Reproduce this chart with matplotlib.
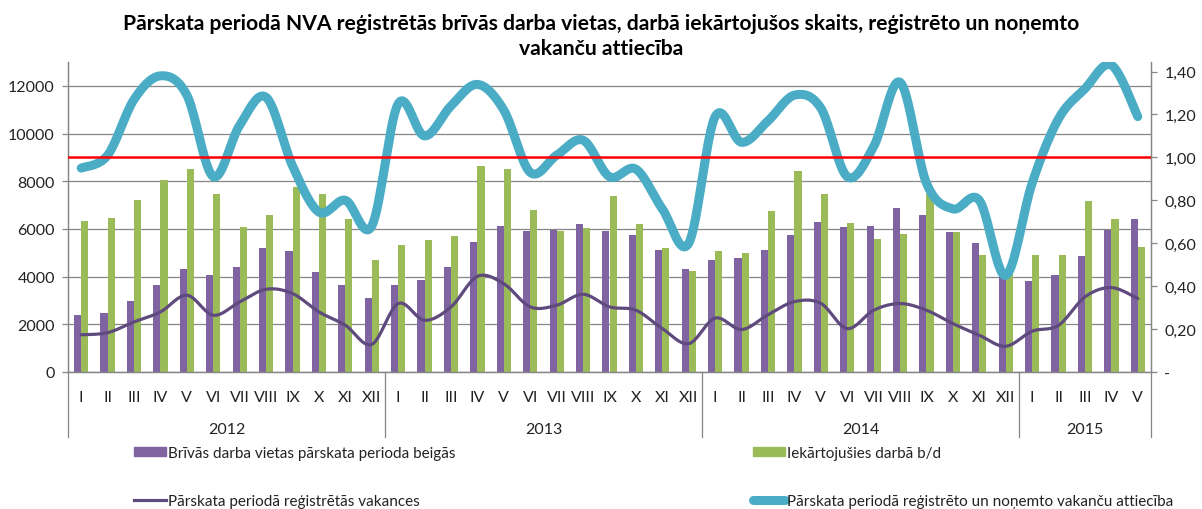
import numpy as np
import matplotlib
matplotlib.use('Agg')
import matplotlib.pyplot as plt
import matplotlib.transforms as mtransforms
from matplotlib.patches import Patch
from matplotlib.lines import Line2D

plt.rcParams['font.family'] = ['Lato', 'DejaVu Sans']

# dati
years = ['2012', '2013', '2014', '2015']
months = ['I', 'II', 'III', 'IV', 'V', 'VI', 'VII', 'VIII', 'IX', 'X', 'XI', 'XII'] * 3 + ['I', 'II', 'III', 'IV', 'V']
year_len = [12, 12, 12, 5]

brivas = [2400, 2470, 2970, 3640, 4340, 4080, 4410, 5200, 5060, 4180, 3640, 3110,
          3660, 3860, 4390, 5440, 6140, 5930, 5970, 6210, 5930, 5740, 5100, 4330,
          4700, 4800, 5100, 5760, 6280, 6070, 6130, 6880, 6570, 5875, 5430, 4200,
          3820, 4080, 4870, 5950, 6410]

iekartojusies = [6330, 6470, 7210, 8050, 8530, 7450, 6090, 6570, 7745, 7480, 6430, 4690,
                 5330, 5540, 5710, 8630, 8530, 6810, 5900, 6040, 7385, 6210, 5200, 4250,
                 5080, 5005, 6770, 8420, 7480, 6240, 5590, 5800, 7470, 5875, 4920, 4400,
                 4920, 4920, 7170, 6410, 5260]

vakances = [1560, 1650, 2100, 2520, 3220, 2380, 2940, 3470, 3290, 2520, 1960, 1160,
            2870, 2170, 2730, 4010, 3700, 2730, 2800, 3260, 2730, 2590, 1820, 1190,
            2260, 1780, 2400, 2950, 2880, 1820, 2590, 2870, 2590, 2030, 1540, 1080,
            1710, 1960, 3150, 3540, 3080]

attieciba = [0.95, 1.01, 1.27, 1.38, 1.29, 0.91, 1.15, 1.28, 0.96, 0.745, 0.80, 0.68,
             1.25, 1.10, 1.24, 1.34, 1.22, 0.93, 1.01, 1.08, 0.91, 0.945, 0.76, 0.60,
             1.19, 1.07, 1.17, 1.29, 1.23, 0.91, 1.05, 1.35, 0.88, 0.76, 0.80, 0.45,
             0.88, 1.18, 1.32, 1.43, 1.19]

robeza = 1.0

C_PURPLE = '#8064A2'
C_GREEN = '#9BBB59'
C_DARK = '#5F4A7E'
C_CYAN = '#4BACC6'
C_GRID = '#868686'


def smooth(x, y, n=20):
    # Excel-style gluda līnija (Catmull-Rom)
    x = np.asarray(x, float)
    y = np.asarray(y, float)
    px = np.concatenate([[x[0]], x, [x[-1]]])
    py = np.concatenate([[y[0]], y, [y[-1]]])
    xs, ys = [], []
    t = np.linspace(0, 1, n)
    for i in range(1, len(px) - 2):
        p0 = np.array([px[i], py[i]])
        p1 = np.array([px[i + 1], py[i + 1]])
        c1 = p0 + (p1 - np.array([px[i - 1], py[i - 1]])) / 6
        c2 = p1 - (np.array([px[i + 2], py[i + 2]]) - p0) / 6
        b = ((1 - t) ** 3)[:, None] * p0 + (3 * (1 - t) ** 2 * t)[:, None] * c1 \
            + (3 * (1 - t) * t ** 2)[:, None] * c2 + (t ** 3)[:, None] * p1
        xs.extend(b[:, 0])
        ys.extend(b[:, 1])
    return xs, ys


fig = plt.figure(figsize=(12.02, 5.10), dpi=100)
ax = fig.add_axes([68 / 1202, 1 - 373 / 510, 1083 / 1202, 310 / 510])
ax2 = ax.twinx()

x = np.arange(len(months))
w = 0.27
ax.bar(x - w / 2, brivas, w, color=C_PURPLE, zorder=2)
ax.bar(x + w / 2, iekartojusies, w, color=C_GREEN, zorder=2)
sx, sy = smooth(x, vakances)
ax.plot(sx, sy, color=C_DARK, lw=2.3, zorder=3, solid_capstyle='round')

rx, ry = smooth(x, attieciba)
ax2.plot(rx, ry, color=C_CYAN, lw=6.5, solid_capstyle='round', zorder=3)
ax2.axhline(robeza, color='#FF0000', lw=1.8, zorder=4)

ax.set_xlim(-0.5, len(months) - 0.5)
ax.set_ylim(0, 13000)
ax2.set_ylim(0, 13000 / 9000)

ax.set_yticks(range(0, 12001, 2000))
ax.set_yticklabels([str(v) for v in range(0, 12001, 2000)], fontsize=11.5)
ax.yaxis.grid(True, color=C_GRID, lw=0.9)
ax.set_axisbelow(True)
ax2.set_yticks(np.arange(0, 1.41, 0.2))
ax2.set_yticklabels(['-'] + [('%.2f' % v).replace('.', ',') for v in np.arange(0.2, 1.41, 0.2)],
                    fontsize=11.5)

for a in (ax, ax2):
    a.spines['top'].set_visible(False)
    for s in ('left', 'right', 'bottom'):
        a.spines[s].set_color(C_GRID)
        a.spines[s].set_linewidth(0.9)
    a.tick_params(axis='y', length=4.5, width=0.9, colors=C_GRID, labelcolor='#222222', pad=5)
ax.set_xticks([])

# mēneši un gadi zem ass
trans = mtransforms.blended_transform_factory(ax.transData, ax.transAxes)
for i, m in enumerate(months):
    ax.text(i, -0.08, m, transform=trans, ha='center', va='center', fontsize=11.5, color='#222222')
start = 0
bounds = [-0.5]
for yr, n in zip(years, year_len):
    ax.text(start + (n - 1) / 2, -0.183, yr, transform=trans, ha='center', va='center',
            fontsize=11.5, color='#222222')
    start += n
    bounds.append(start - 0.5)
for b in bounds:
    ax.plot([b, b], [0, -0.21], transform=trans, color=C_GRID, lw=0.9, clip_on=False)

fig.text(0.5, 0.972, 'Pārskata periodā NVA reģistrētās brīvās darba vietas, darbā iekārtojušos skaits, reģistrēto un noņemto\nvakanču attiecība',
         ha='center', va='top', fontsize=15.2, fontweight='bold', linespacing=1.3)

h1 = [Patch(color=C_PURPLE), Line2D([], [], color=C_DARK, lw=2.3)]
l1 = ['Brīvās darba vietas pārskata perioda beigās', 'Pārskata periodā reģistrētās vakances']
h2 = [Patch(color=C_GREEN), Line2D([], [], color=C_CYAN, lw=6.5, solid_capstyle='round')]
l2 = ['Iekārtojušies darbā b/d', 'Pārskata periodā reģistrēto un noņemto vakanču attiecība']
leg1 = fig.legend(h1, l1, loc='upper left', bbox_to_anchor=(120 / 1202, 1 - 433 / 510), frameon=False,
                  fontsize=11, handlelength=2.1, handletextpad=0.15, labelspacing=2.25, handleheight=0.55)
leg2 = fig.legend(h2, l2, loc='upper left', bbox_to_anchor=(739 / 1202, 1 - 433 / 510), frameon=False,
                  fontsize=11, handlelength=2.1, handletextpad=0.15, labelspacing=2.25, handleheight=0.55)
for lg in (leg1, leg2):
    for t in lg.get_texts():
        t.set_color('#222222')

fig.savefig('out.png', dpi=100)
